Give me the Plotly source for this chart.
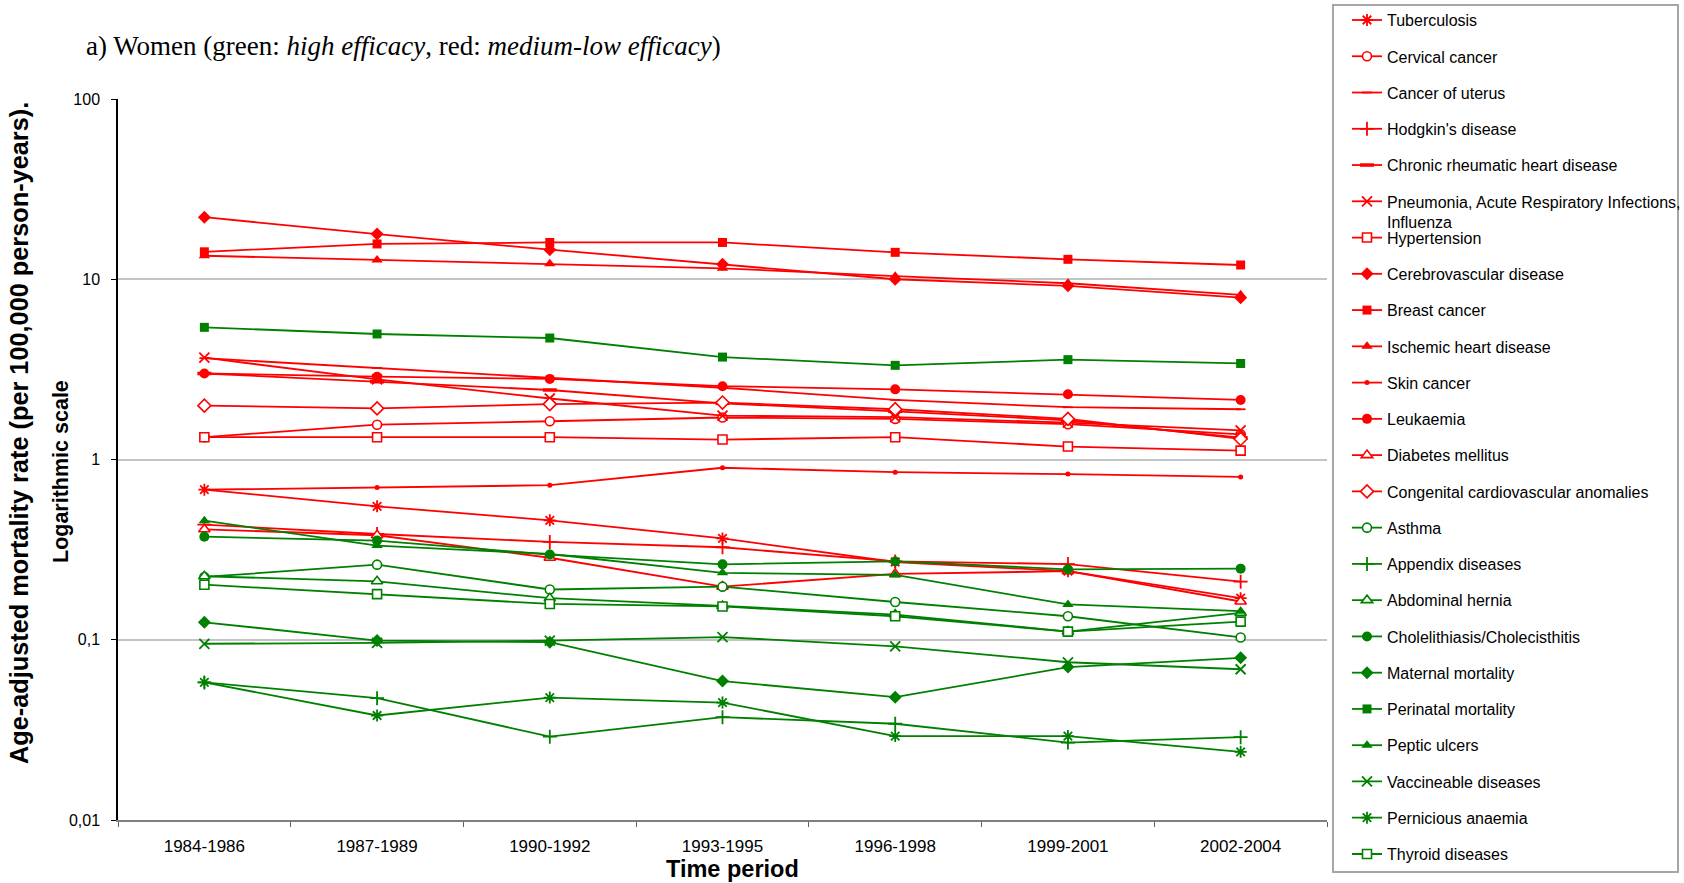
import plotly.graph_objects as go

# Canvas and plot-area box in pixels
W, H = 1684, 883
L, R, T, B = 118, 1327, 99, 820

RED = "#FF0000"
GREEN = "#008000"

periods = ["1984-1986", "1987-1989", "1990-1992", "1993-1995",
           "1996-1998", "1999-2001", "2002-2004"]

# Medium-low efficacy causes (red)
tuberculosis = [0.68, 0.55, 0.46, 0.365, 0.27, 0.24, 0.17]
cervical_cancer = [1.33, 1.56, 1.63, 1.71, 1.68, 1.57, 1.38]
cancer_of_uterus = [3.65, 3.22, 2.83, 2.50, 2.14, 1.95, 1.90]
hodgkins_disease = [0.435, 0.386, 0.349, 0.326, 0.272, 0.263, 0.21]
chronic_rheumatic = [3.0, 2.70, 2.43, 2.05, 1.85, 1.65, 1.32]
pneumonia = [3.67, 2.78, 2.18, 1.75, 1.72, 1.60, 1.45]
hypertension = [1.33, 1.33, 1.33, 1.29, 1.33, 1.18, 1.12]
cerebrovascular = [22.1, 17.8, 14.6, 12.1, 10.0, 9.2, 7.9]
breast_cancer = [14.2, 15.7, 16.0, 16.0, 14.1, 12.9, 12.0]
ischemic_heart = [13.5, 12.8, 12.2, 11.5, 10.4, 9.5, 8.2]
skin_cancer = [0.68, 0.70, 0.72, 0.90, 0.85, 0.83, 0.80]
leukaemia = [3.0, 2.88, 2.80, 2.55, 2.45, 2.30, 2.14]
diabetes = [0.41, 0.38, 0.285, 0.197, 0.232, 0.24, 0.163]
congenital_cardio = [1.99, 1.92, 2.03, 2.07, 1.90, 1.68, 1.30]

# High efficacy causes (green)
asthma = [0.223, 0.261, 0.19, 0.197, 0.162, 0.135, 0.103]
appendix = [0.058, 0.0474, 0.029, 0.0372, 0.0342, 0.0269, 0.0288]
abdominal_hernia = [0.225, 0.211, 0.170, 0.154, 0.138, 0.111, 0.141]
cholelithiasis = [0.373, 0.355, 0.297, 0.262, 0.272, 0.246, 0.248]
maternal = [0.125, 0.099, 0.097, 0.059, 0.048, 0.0705, 0.0794]
perinatal = [5.41, 4.97, 4.72, 3.70, 3.33, 3.58, 3.41]
peptic_ulcers = [0.458, 0.333, 0.299, 0.235, 0.229, 0.157, 0.144]
vaccineable = [0.095, 0.096, 0.099, 0.1035, 0.092, 0.075, 0.0686]
pernicious = [0.058, 0.038, 0.0478, 0.0448, 0.0292, 0.0292, 0.0239]
thyroid = [0.202, 0.179, 0.158, 0.153, 0.135, 0.111, 0.126]

ytick_vals = [0.01, 0.1, 1, 10, 100]
ytick_text = ["0,01", "0,1", "1", "10", "100"]

# (name, values, colour, symbol, size, open-with-white-fill)
series = [
    ("Tuberculosis", tuberculosis, RED, "asterisk-open", 10, False),
    ("Cervical cancer", cervical_cancer, RED, "circle", 9, True),
    ("Cancer of uterus", cancer_of_uterus, RED, "line-ew-open", 7, False),
    ("Hodgkin's disease", hodgkins_disease, RED, "cross-thin-open", 10, False),
    ("Chronic rheumatic heart disease", chronic_rheumatic, RED, "line-ew-open", 10, False),
    ("Pneumonia, Acute Respiratory Infections,<br>Influenza", pneumonia, RED, "x-thin-open", 10, False),
    ("Hypertension", hypertension, RED, "square", 9, True),
    ("Cerebrovascular disease", cerebrovascular, RED, "diamond", 10, False),
    ("Breast cancer", breast_cancer, RED, "square", 9, False),
    ("Ischemic heart disease", ischemic_heart, RED, "triangle-up", 10, False),
    ("Skin cancer", skin_cancer, RED, "circle", 5, False),
    ("Leukaemia", leukaemia, RED, "circle", 10, False),
    ("Diabetes mellitus", diabetes, RED, "triangle-up", 10, True),
    ("Congenital cardiovascular anomalies", congenital_cardio, RED, "diamond", 10, True),
    ("Asthma", asthma, GREEN, "circle", 9, True),
    ("Appendix diseases", appendix, GREEN, "cross-thin-open", 10, False),
    ("Abdominal hernia", abdominal_hernia, GREEN, "triangle-up", 10, True),
    ("Cholelithiasis/Cholecisthitis", cholelithiasis, GREEN, "circle", 10, False),
    ("Maternal mortality", maternal, GREEN, "diamond", 10, False),
    ("Perinatal mortality", perinatal, GREEN, "square", 9, False),
    ("Peptic ulcers", peptic_ulcers, GREEN, "triangle-up", 10, False),
    ("Vaccineable diseases", vaccineable, GREEN, "x-thin-open", 10, False),
    ("Pernicious anaemia", pernicious, GREEN, "asterisk-open", 10, False),
    ("Thyroid diseases", thyroid, GREEN, "square", 9, True),
]

fig = go.Figure()
for i, (name, vals, col, sym, size, hollow) in enumerate(series):
    if hollow:
        marker = dict(symbol=sym, size=size, color="white",
                      line=dict(color=col, width=1.6))
    elif sym.endswith("-open"):
        lw = 3.5 if name.startswith("Chronic") else 1.8
        marker = dict(symbol=sym, size=size, color=col,
                      line=dict(color=col, width=lw))
    else:
        marker = dict(symbol=sym, size=size, color=col,
                      line=dict(color=col, width=0))
    fig.add_trace(go.Scatter(
        x=periods, y=vals, name=name, mode="lines+markers",
        line=dict(color=col, width=1.8), marker=marker,
        legendgroup=name,
        legend="legend" if i < 6 else "legend2",
    ))


def px_x(px):
    return (px - L) / (R - L)


def px_y(py):
    return (B - py) / (B - T)


ITEM_H = 16 * 1.3 + 3          # plotly legend row height for 16px text
ROW = 36.26                    # row pitch of the legend
GAP = ROW - ITEM_H
FIRST_ROW = 20
top1 = FIRST_ROW - (ITEM_H / 2 + 5)
top2 = FIRST_ROW + 6 * ROW - (ITEM_H / 2 + 5)

legend_common = dict(
    xref="container", yref="container",
    xanchor="left", yanchor="top", maxheight=900,
    bgcolor="rgba(0,0,0,0)", borderwidth=0, tracegroupgap=GAP,
    valign="top", font=dict(family="Liberation Sans, Arial", size=16, color="black"),
)

fig.update_layout(
    width=W, height=H,
    margin=dict(l=L, r=W - R, t=T, b=H - B, pad=0, autoexpand=False),
    plot_bgcolor="white", paper_bgcolor="white",
    font=dict(family="Liberation Sans, Arial", color="black"),
    showlegend=True,
    legend=dict(x=1347 / W, y=1 - top1 / H, **legend_common),
    legend2=dict(x=1347 / W, y=1 - top2 / H, **legend_common),
    xaxis=dict(
        type="category", range=[-0.5, 6.5], tickson="boundaries",
        ticks="outside", ticklen=5, tickcolor="#606060", tickwidth=1.3,
        showline=True, linecolor="#808080", linewidth=1.5, showgrid=False,
        tickfont=dict(size=17, color="black"), ticklabelstandoff=10,
    ),
    yaxis=dict(
        type="log", range=[-2, 2], tickvals=ytick_vals, ticktext=ytick_text,
        ticks="outside", ticklen=5, tickcolor="black", tickwidth=1.3,
        showline=True, linecolor="black", linewidth=1.5,
        showgrid=True, gridcolor="#c4c4c4", gridwidth=1.5, zeroline=False,
        tickfont=dict(size=16, color="black"), ticklabelstandoff=8,
    ),
    shapes=[dict(
        type="rect", xref="paper", yref="paper",
        x0=px_x(1333), x1=px_x(1678), y0=px_y(872), y1=px_y(5),
        line=dict(color="#a6a6a6", width=2), fillcolor="rgba(0,0,0,0)",
        layer="below",
    )],
    annotations=[
        dict(text="a) Women (green: <i>high efficacy</i>, red: <i>medium-low efficacy</i>)",
             xref="paper", yref="paper", x=px_x(84), y=px_y(46),
             xanchor="left", yanchor="middle", showarrow=False,
             font=dict(family="Liberation Serif, Times New Roman", size=27, color="black")),
        dict(text="<b>Age-adjusted mortality rate (per 100,000 person-years).</b>",
             xref="paper", yref="paper", x=px_x(19), y=px_y(433),
             xanchor="center", yanchor="middle", textangle=-90, showarrow=False,
             font=dict(size=25.3, color="black")),
        dict(text="<b>Logarithmic scale</b>",
             xref="paper", yref="paper", x=px_x(61), y=px_y(472),
             xanchor="center", yanchor="middle", textangle=-90, showarrow=False,
             font=dict(size=21.5, color="black")),
        dict(text="<b>Time period</b>",
             xref="paper", yref="paper", x=px_x(732), y=px_y(869),
             xanchor="center", yanchor="middle", showarrow=False,
             font=dict(size=23.5, color="black")),
    ],
)

fig.write_html("out.html")
